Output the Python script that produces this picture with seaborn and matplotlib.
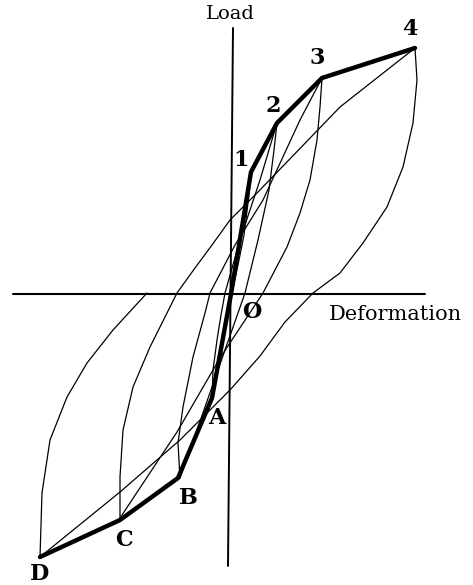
import matplotlib
matplotlib.use("Agg")
import matplotlib.pyplot as plt
import seaborn as sns
import pandas as pd

# skeleton (envelope) curve: D - C - B - A - O - 1 - 2 - 3 - 4
skeleton_x = [-190, -110, -52, -18, 1, 21, 47, 92, 185]
skeleton_y = [-263, -226, -184, -104, 0, 122, 171, 216, 246]
skeleton_labels = ["D", "C", "B", "A", "O", "1", "2", "3", "4"]

# unloading branches (peak -> opposite peak)
unload_4_x = [185, 187, 183, 173, 157, 133, 110, 83, 55, 30, 0, -50, -110, -190]
unload_4_y = [246, 214, 171, 127, 87, 51, 21, 1, -28, -62, -96, -146, -198, -263]
unload_3_x = [92, 90, 87, 80, 70, 57, 33, -10, -53, -110]
unload_3_y = [216, 187, 154, 114, 81, 47, 1, -64, -138, -224]
unload_2_x = [47, 44, 39, 28, 15, -5, -25, -50]
unload_2_y = [171, 144, 104, 54, 1, -56, -113, -184]
unload_1_x = [21, 19, 14, 8, 2, -18]
unload_1_y = [122, 99, 59, 29, 1, -104]

# reloading branches
reload_A_x = [-18, -17, -13, -9, -5, 10, 30, 47]
reload_A_y = [-104, -76, -46, -21, 1, 54, 114, 171]
reload_B_x = [-50, -52, -47, -37, -25, -20, 5, 33, 70, 92]
reload_B_y = [-184, -149, -113, -63, -19, 1, 49, 94, 174, 216]
reload_C_x = [-110, -110, -107, -97, -80, -63, -53, -35, -18, 0, 27, 110, 185]
reload_C_y = [-224, -183, -136, -93, -53, -19, 1, 26, 49, 74, 101, 187, 246]
reload_D_x = [-190, -188, -180, -163, -143, -117, -83]
reload_D_y = [-263, -199, -146, -103, -69, -36, 1]

branches = {
    "unload 4": (unload_4_x, unload_4_y),
    "unload 3": (unload_3_x, unload_3_y),
    "unload 2": (unload_2_x, unload_2_y),
    "unload 1": (unload_1_x, unload_1_y),
    "reload A": (reload_A_x, reload_A_y),
    "reload B": (reload_B_x, reload_B_y),
    "reload C": (reload_C_x, reload_C_y),
    "reload D": (reload_D_x, reload_D_y),
}
loops = pd.concat(
    [pd.DataFrame({"deformation": xs, "load": ys, "branch": name})
     for name, (xs, ys) in branches.items()],
    ignore_index=True,
)
skeleton = pd.DataFrame({"deformation": skeleton_x, "load": skeleton_y})

sns.set_style("white")
fig = plt.figure(figsize=(4.73, 5.85), dpi=100)
ax = fig.add_axes([0, 0, 1, 1])

# coordinate axes
ax.plot([-217, 195], [0, 0], color="black", lw=1.5)
ax.plot([3, -2], [266, -272], color="black", lw=1.4)

sns.lineplot(data=loops, x="deformation", y="load", units="branch",
             estimator=None, sort=False, color="black", lw=0.9, ax=ax,
             solid_joinstyle="round")
sns.lineplot(data=skeleton, x="deformation", y="load", estimator=None,
             sort=False, color="black", lw=3.2, ax=ax,
             solid_joinstyle="round", solid_capstyle="round")

serif = ["DejaVu Serif"]
ax.text(0, 280, "Load", ha="center", va="center", fontsize=14,
        family=serif, color="black")
ax.text(165, -21, "Deformation", ha="center", va="center", fontsize=15,
        family=serif, color="black")

label_pos = {
    "4": (180, 265), "3": (87, 236), "2": (43, 188), "1": (11, 134),
    "O": (22, -18), "A": (-13, -124), "B": (-42, -204), "C": (-106, -246),
    "D": (-190, -280),
}
for name in skeleton_labels:
    lx, ly = label_pos[name]
    ax.text(lx, ly, name, ha="center", va="center", fontsize=16,
            fontweight="bold", family=serif, color="black")

ax.set_xlim(-230, 243)
ax.set_ylim(-291, 294)
ax.set_axis_off()

fig.savefig("out.png", dpi=100)
